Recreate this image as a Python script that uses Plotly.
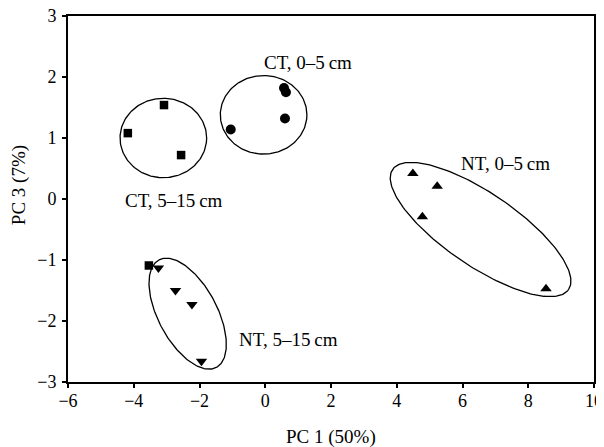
import numpy as np
import plotly.graph_objects as go

# ---- data ----
ct05_x = [0.57, 0.63, 0.60, -1.05]
ct05_y = [1.82, 1.75, 1.32, 1.14]
ct515_x = [-3.08, -4.18, -2.56, -3.54]
ct515_y = [1.54, 1.08, 0.72, -1.09]
nt05_x = [4.49, 5.23, 4.78, 8.54]
nt05_y = [0.42, 0.21, -0.29, -1.47]
nt515_x = [-3.25, -2.73, -2.23, -1.94]
nt515_y = [-1.13, -1.50, -1.73, -2.66]

group_labels = ["CT, 0–5\u2009cm", "CT, 5–15\u2009cm", "NT, 0–5\u2009cm", "NT, 5–15\u2009cm"]
label_x = [1.30, -2.77, 7.30, 0.70]
label_y = [2.23, -0.03, 0.585, -2.30]

# ellipse parameters: centre (data), semi-axes (screen px), rotation (deg)
ell_cx = [-0.05, -3.10, 6.55, -2.36]
ell_cy = [1.38, 1.00, -0.50, -1.88]
ell_a = [43.3, 43.3, 106.5, 60.9]
ell_b = [39.3, 39.7, 36.4, 29.4]
ell_ang = [0, 0, -34.3, 118.1]

x_range = [-6, 10]
y_range = [-3, 3]
x_ticks = [-6, -4, -2, 0, 2, 4, 6, 8, 10]
y_ticks = [-3, -2, -1, 0, 1, 2, 3]

FONT = "Liberation Serif"
# page has an 8px body margin, so the figure is drawn 8px smaller
W, H = 596, 439
ML, MR, MT, MB = 60, 10, 8, 65
sx = (W - ML - MR) / (x_range[1] - x_range[0])
sy = (H - MT - MB) / (y_range[1] - y_range[0])

fig = go.Figure()

marker_common = dict(color="black")
fig.add_trace(go.Scatter(x=ct05_x, y=ct05_y, mode="markers",
                         marker=dict(symbol="circle", size=10, **marker_common)))
fig.add_trace(go.Scatter(x=ct515_x, y=ct515_y, mode="markers",
                         marker=dict(symbol="square", size=8.5, **marker_common)))
fig.add_trace(go.Scatter(x=nt05_x, y=nt05_y, mode="markers",
                         marker=dict(symbol="triangle-up", size=10, **marker_common)))
fig.add_trace(go.Scatter(x=nt515_x, y=nt515_y, mode="markers",
                         marker=dict(symbol="triangle-down", size=10, **marker_common)))

t = np.linspace(0, 2 * np.pi, 200)
for cx, cy, a, b, ang in zip(ell_cx, ell_cy, ell_a, ell_b, ell_ang):
    p = np.deg2rad(ang)
    ex = cx + (a * np.cos(t) * np.cos(p) - b * np.sin(t) * np.sin(p)) / sx
    ey = cy + (a * np.cos(t) * np.sin(p) + b * np.sin(t) * np.cos(p)) / sy
    fig.add_trace(go.Scatter(x=ex, y=ey, mode="lines",
                             line=dict(color="black", width=1.3),
                             hoverinfo="skip"))

for txt, lx, ly in zip(group_labels, label_x, label_y):
    fig.add_annotation(x=lx, y=ly, text=txt, showarrow=False,
                       font=dict(family=FONT, size=19, color="black"))

fig.add_annotation(x=0.5, y=-0.150, xref="paper", yref="paper", text="PC 1 (50%)",
                   showarrow=False, yanchor="middle",
                   font=dict(family=FONT, size=19, color="black"))
fig.add_annotation(x=-0.093, y=0.538, xref="paper", yref="paper", text="PC 3 (7%)",
                   textangle=-90, showarrow=False, xanchor="center",
                   font=dict(family=FONT, size=19, color="black"))

axis_common = dict(showgrid=False, zeroline=False, showline=True, linecolor="black",
                   linewidth=2, mirror=True, ticks="outside", ticklen=4,
                   tickwidth=2, tickcolor="black", automargin=False,
                   ticklabeloverflow="allow",
                   tickfont=dict(family=FONT, size=18, color="black"))
fig.update_xaxes(range=x_range, tickvals=x_ticks, ticklabelstandoff=-3,
                 ticktext=[str(v).replace("-", "−") for v in x_ticks], **axis_common)
fig.update_yaxes(range=y_range, tickvals=y_ticks, ticklabelstandoff=2,
                 ticktext=[str(v).replace("-", "−") for v in y_ticks], **axis_common)

fig.update_layout(width=W, height=H, showlegend=False,
                  margin=dict(l=ML, r=MR, t=MT, b=MB),
                  plot_bgcolor="white", paper_bgcolor="white")

fig.write_html("out.html")
